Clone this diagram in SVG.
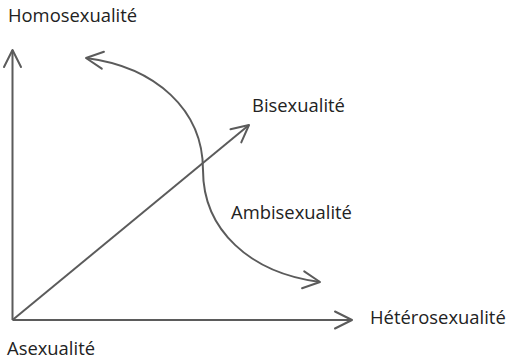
<svg xmlns="http://www.w3.org/2000/svg" width="508" height="361" viewBox="0 0 508 361">
<defs>
<style>
.ln{fill:none;stroke:#5b5b5b;stroke-width:2;}
.lbl{font-family:"Open Sans","Liberation Sans",sans-serif;font-size:18.4px;fill:#222;}
</style>
<marker id="ah" markerUnits="userSpaceOnUse" markerWidth="30" markerHeight="30" viewBox="-20 -15 30 30" refX="0" refY="0" orient="auto-start-reverse" overflow="visible">
<path d="M-17,-8.5 L0,0 L-17,8.5" fill="none" stroke="#5b5b5b" stroke-width="2" stroke-linejoin="round" stroke-linecap="round"/>
</marker>
</defs>
<rect width="508" height="361" fill="#fff"/>
<g id="connectors">
<line class="ln" x1="12.5" y1="320" x2="12.5" y2="50" marker-end="url(#ah)"/>
<line class="ln" x1="12.5" y1="320" x2="352" y2="320" marker-end="url(#ah)"/>
<line class="ln" x1="12.5" y1="320" x2="249" y2="125" marker-end="url(#ah)"/>
<path class="ln" d="M86,58 C156,67 203,110 203,170 C203,230 250,273 320,282" marker-start="url(#ah)" marker-end="url(#ah)"/>
</g>
<g id="homo"><text class="lbl" x="8" y="22">Homosexualité</text></g>
<g id="bi"><text class="lbl" x="252" y="112">Bisexualité</text></g>
<g id="ambi"><text class="lbl" x="231" y="219">Ambisexualité</text></g>
<g id="hetero"><text class="lbl" x="370" y="324">Hétérosexualité</text></g>
<g id="a"><text class="lbl" x="7" y="355">Asexualité</text></g>
</svg>
